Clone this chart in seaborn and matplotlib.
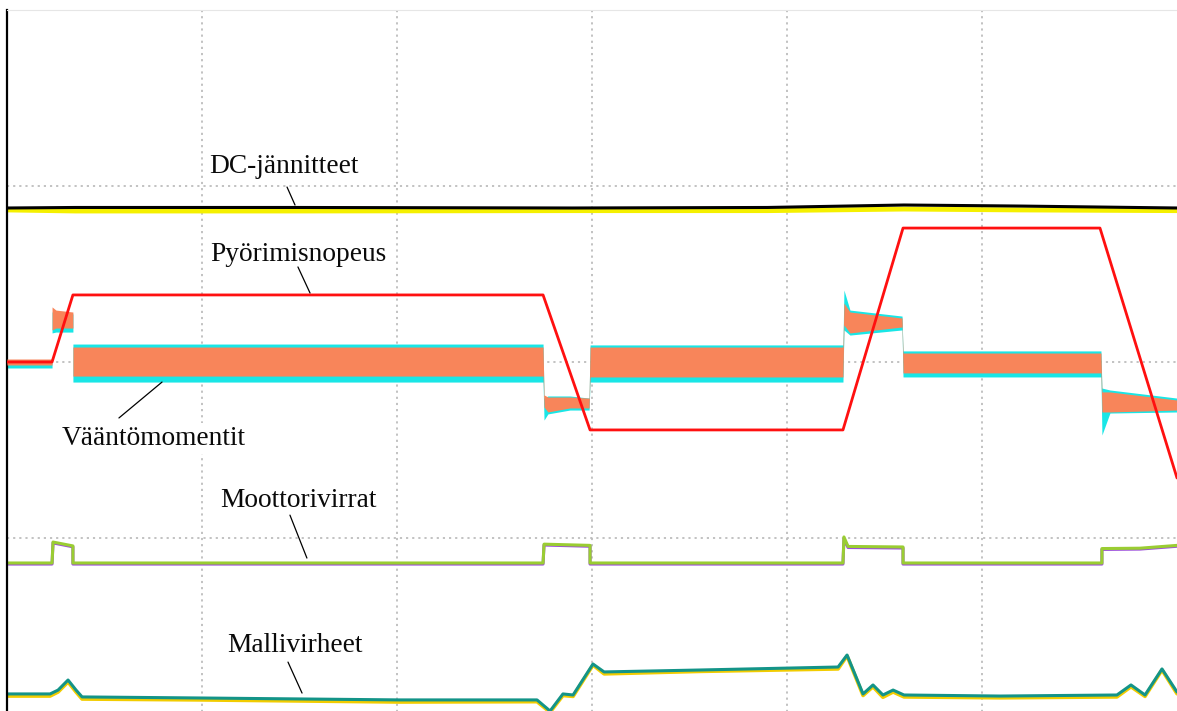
import numpy as np
import matplotlib
matplotlib.use("Agg")
import matplotlib.pyplot as plt
import seaborn as sns

# time axis in s (1 s / div), values in screen divisions
t_speed = [0, 0.231, 0.338, 2.749, 2.990, 4.287, 4.595, 5.605, 6.0]
speed = [2.00, 2.00, 2.381, 2.381, 1.614, 1.614, 2.761, 2.761, 1.341]

t_dc = [0, 0.35, 1.5, 2.9, 3.9, 4.6, 5.2, 6.0]
dc_black = [2.875, 2.878, 2.878, 2.875, 2.878, 2.892, 2.886, 2.875]
dc_yellow = [2.864, 2.858, 2.858, 2.860, 2.860, 2.869, 2.864, 2.860]

# torque: envelopes of the two noisy traces
t_torque = [0, 0.231, 0.231, 0.251, 0.338, 0.338, 2.749, 2.754, 2.774, 2.887, 2.985,
            2.990, 4.287, 4.292, 4.323, 4.590, 4.595, 5.610, 5.615, 5.656, 6.0]
orange_hi = [2.017, 2.017, 2.313, 2.295, 2.284, 2.085, 2.085, 1.813, 1.801, 1.801, 1.795,
             2.085, 2.085, 2.335, 2.284, 2.250, 2.051, 2.051, 1.830, 1.830, 1.784]
orange_lo = [1.983, 1.983, 2.182, 2.193, 2.193, 1.920, 1.920, 1.744, 1.716, 1.739, 1.739,
             1.915, 1.915, 2.210, 2.165, 2.199, 1.938, 1.938, 1.716, 1.716, 1.727]
cyan_hi = [2.006, 2.006, 2.284, 2.284, 2.273, 2.102, 2.102, 1.795, 1.807, 1.807, 1.795,
           2.097, 2.097, 2.409, 2.295, 2.261, 2.063, 2.063, 1.852, 1.841, 1.795]
cyan_lo = [1.966, 1.966, 2.165, 2.170, 2.170, 1.886, 1.886, 1.670, 1.705, 1.727, 1.727,
           1.886, 1.886, 2.182, 2.153, 2.182, 1.915, 1.915, 1.585, 1.710, 1.716]

t_cur = [0, 0.231, 0.236, 0.338, 0.338, 2.749, 2.754, 2.990, 2.990, 4.287, 4.292,
         4.313, 4.595, 4.595, 5.615, 5.615, 5.81, 6.0]
cur_green = [0.858, 0.858, 0.977, 0.955, 0.858, 0.858, 0.965, 0.958, 0.858, 0.858, 1.006,
             0.952, 0.949, 0.858, 0.858, 0.940, 0.942, 0.958]
cur_purple = [0.852, 0.852, 0.972, 0.950, 0.852, 0.852, 0.960, 0.953, 0.852, 0.852, 0.995,
              0.946, 0.943, 0.852, 0.852, 0.935, 0.937, 0.953]

t_err = [0, 0.221, 0.262, 0.313, 0.354, 0.385, 0.990, 2.015, 2.718, 2.785,
         2.851, 2.903, 3.005, 3.062, 3.554, 4.262, 4.308, 4.390, 4.441, 4.492,
         4.544, 4.600, 5.092, 5.692, 5.764, 5.836, 5.923, 6.0]
err_teal = [0.114, 0.114, 0.136, 0.193, 0.136, 0.097, 0.091, 0.080, 0.080, 0.017,
            0.114, 0.108, 0.284, 0.239, 0.250, 0.267, 0.335, 0.114, 0.165, 0.108,
            0.136, 0.108, 0.102, 0.108, 0.165, 0.108, 0.256, 0.125]
err_gold = [0.102, 0.102, 0.125, 0.182, 0.125, 0.085, 0.080, 0.068, 0.070, 0.010,
            0.105, 0.100, 0.278, 0.228, 0.242, 0.256, 0.330, 0.105, 0.155, 0.095,
            0.125, 0.097, 0.092, 0.097, 0.155, 0.100, 0.250, 0.115]

# labels: text, text position (t, div), leader line start, leader line end
labels = ["DC-jännitteet", "Pyörimisnopeus", "Vääntömomentit", "Moottorivirrat", "Mallivirheet"]
label_pos = [(1.421, 3.074), (1.495, 2.574), (0.754, 1.528), (1.492, 1.176), (1.477, 0.352)]
leader_from = [(1.436, 2.994), (1.492, 2.540), (0.574, 1.682), (1.451, 1.130), (1.441, 0.295)]
leader_to = [(1.477, 2.892), (1.554, 2.392), (0.795, 1.886), (1.538, 0.886), (1.513, 0.119)]

sns.set_style("white")
plt.rcParams["font.family"] = ["Liberation Serif", "DejaVu Serif"]

fig = plt.figure(figsize=(11.77, 7.11), dpi=100)
ax = fig.add_axes([0.00595, -0.00422, 0.99405, 0.99016])

grid_kw = dict(color="#bdbdbd", lw=1.3, ls=(0, (1.2, 2.2)), zorder=0)
for gx in [1, 2, 3, 4, 5]:
    ax.axvline(gx, **grid_kw)
for gy in [1, 2, 3]:
    ax.axhline(gy, **grid_kw)

sns.lineplot(x=t_dc, y=dc_yellow, ax=ax, color="#f5f000", lw=3.5, estimator=None, sort=False)
sns.lineplot(x=t_dc, y=dc_black, ax=ax, color="black", lw=2.2, estimator=None, sort=False)

ax.fill_between(t_torque, cyan_lo, cyan_hi, color="#19e6e6", lw=0, zorder=2)
ax.fill_between(t_torque, orange_lo, orange_hi, color="#f8855a", lw=0, zorder=3)
sns.lineplot(x=t_speed, y=speed, ax=ax, color="#ff1010", lw=2.0, estimator=None, sort=False, zorder=4)

sns.lineplot(x=t_cur, y=cur_purple, ax=ax, color="#9b4ddb", lw=2.2, estimator=None, sort=False)
sns.lineplot(x=t_cur, y=cur_green, ax=ax, color="#9acd32", lw=2.2, estimator=None, sort=False)

sns.lineplot(x=t_err, y=err_gold, ax=ax, color="#f2cc00", lw=2.6, estimator=None, sort=False)
sns.lineplot(x=t_err, y=err_teal, ax=ax, color="#139488", lw=2.2, estimator=None, sort=False)

for name, pos, p0, p1 in zip(labels, label_pos, leader_from, leader_to):
    ax.text(pos[0], pos[1], name, fontsize=19.7, ha="center", va="baseline", color="#0a0a0a",
            zorder=6, bbox=dict(facecolor="white", edgecolor="none", pad=2))
    ax.annotate("", xy=p1, xytext=p0, zorder=7,
                arrowprops=dict(arrowstyle="-", lw=0.9, color="black", shrinkA=0, shrinkB=0))

ax.set_xlim(0, 6)
ax.set_ylim(0, 4)
ax.set_xticks([])
ax.set_yticks([])
ax.set_xlabel("")
ax.set_ylabel("")
for side in ["right", "bottom"]:
    ax.spines[side].set_visible(False)
ax.spines["top"].set_color("#e6e6e6")
ax.spines["top"].set_linewidth(0.8)
ax.spines["left"].set_color("black")
ax.spines["left"].set_linewidth(1.6)

fig.savefig("out.png", dpi=100)
